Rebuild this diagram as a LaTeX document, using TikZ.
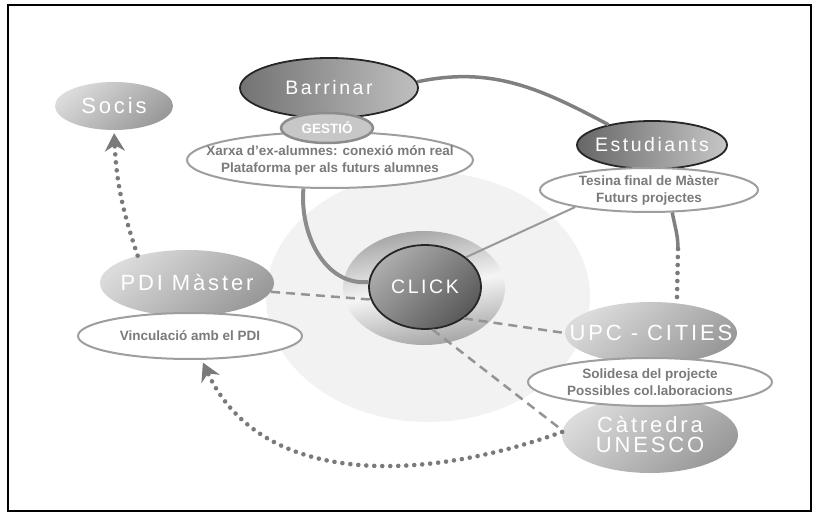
\documentclass[tikz,border=0pt]{standalone}
\usepackage{fontspec}
\setmainfont{Liberation Sans}
\newfontfamily\thinfont[LetterSpace=13]{Liberation Sans}
\usetikzlibrary{shapes.geometric,arrows.meta}

\begin{document}
\begin{tikzpicture}[x=1pt, y=1pt,
    darkblob/.style={ellipse, draw=black!85, line width=1.8pt, inner xsep=-30pt, inner ysep=0pt,
      text=white, font=\thinfont\fontsize{19.5}{21}\selectfont},
    lightblob/.style={ellipse, inner xsep=-30pt, inner ysep=0pt, text=white, align=center,
      top color=black!14, bottom color=black!40, shading angle=40,
      font=\thinfont\fontsize{22}{20}\selectfont},
    notebox/.style={ellipse, draw=black!38, line width=2pt, fill=white, inner xsep=-40pt,
      inner ysep=-3pt, text=black!52, align=center, font=\bfseries\fontsize{13.5}{17}\selectfont},
    dashline/.style={black!42, line width=2.5pt, dash pattern=on 9pt off 6pt},
    dotline/.style={black!52, line width=4.6pt, line cap=round, dash pattern=on 0pt off 8pt},
    arrowend/.style={-{Stealth[length=18pt, width=20pt, inset=6pt]}}
  ]
  \useasboundingbox (0,0) rectangle (818,517);
  % frame
  \draw[line width=1.6pt] (8,6) rectangle (811,512);

  % light disc and halo behind CLICK
  \fill[black!5] (428,220) ellipse [x radius=162, y radius=125];
  \shade[left color=black!36, right color=black!36, middle color=black!4, shading angle=10]
    (424,229) ellipse [x radius=81, y radius=57];

  % top group
  \node[darkblob, minimum width=178, minimum height=60, left color=black!55, right color=black!25]
    (barrinar) at (329,429) {Barrinar};
  \node[notebox, minimum width=286, minimum height=56] (bwhite) at (330,357)
    {Xarxa d'ex-alumnes: conexió món real\\Plataforma per als futurs alumnes};
  \node[ellipse, draw=black!45, line width=2.5pt, fill=black!22, text=white, inner sep=0pt,
    minimum width=92, minimum height=30, font=\bfseries\fontsize{13.5}{15}\selectfont]
    (gestio) at (327,389) {GESTIÓ};

  \node[darkblob, minimum width=150, minimum height=48, left color=black!60, right color=black!22]
    (estud) at (652,372) {Estudiants};
  \node[notebox, minimum width=218, minimum height=44] (ewhite) at (649,327)
    {Tesina final de Màster\\Futurs projectes};

  % centre
  \node[darkblob, minimum width=112, minimum height=84, top color=black!32, bottom color=black!65,
    shading angle=45] (click) at (425,230) {CLICK};

  % left group
  \node[lightblob, minimum width=118, minimum height=48] (socis) at (114,411) {Socis};
  \node[lightblob, minimum width=174, minimum height=66] (pdi) at (187,234) {PDI Màster};
  \node[notebox, minimum width=224, minimum height=46] (pwhite) at (190,181)
    {Vinculació amb el PDI};

  % right group
  \node[lightblob, minimum width=172, minimum height=62] (upc) at (651,184) {UPC - CITIES};
  \node[lightblob, minimum width=176, minimum height=76] (catedra) at (650,82)
    {Càtredra\\UNESCO};
  \node[notebox, minimum width=244, minimum height=48] (uwhite) at (650,135)
    {Solidesa del projecte\\Possibles col.laboracions};

  % links
  \draw[black!50, line width=3.5pt] (barrinar.4) to[out=12, in=152] (estud.155);
  \draw[black!45, line width=4pt] (bwhite.227) to[out=-95, in=185] (click.175);
  \draw[black!40, line width=2pt] (ewhite.193) -- (click.36);
  \coordinate (brk) at (678,268);
  \draw[black!50, line width=3.5pt] (ewhite.-44) to[out=-80, in=90] (brk);
  \draw[dotline] (brk) -- (upc.49);
  \draw[dashline] (pdi.-6) -- (click.193);
  \draw[dashline] (click.-39) -- (upc.west);
  \draw[dashline] (click.-80) -- (catedra.177);
  \draw[dotline, arrowend, shorten >=3pt] (pdi.151) to[bend left=8] (socis.south);
  \draw[dotline, arrowend, shorten >=3pt] (catedra.178) to[out=200, in=-65] (pwhite.-64);
\end{tikzpicture}
\end{document}
